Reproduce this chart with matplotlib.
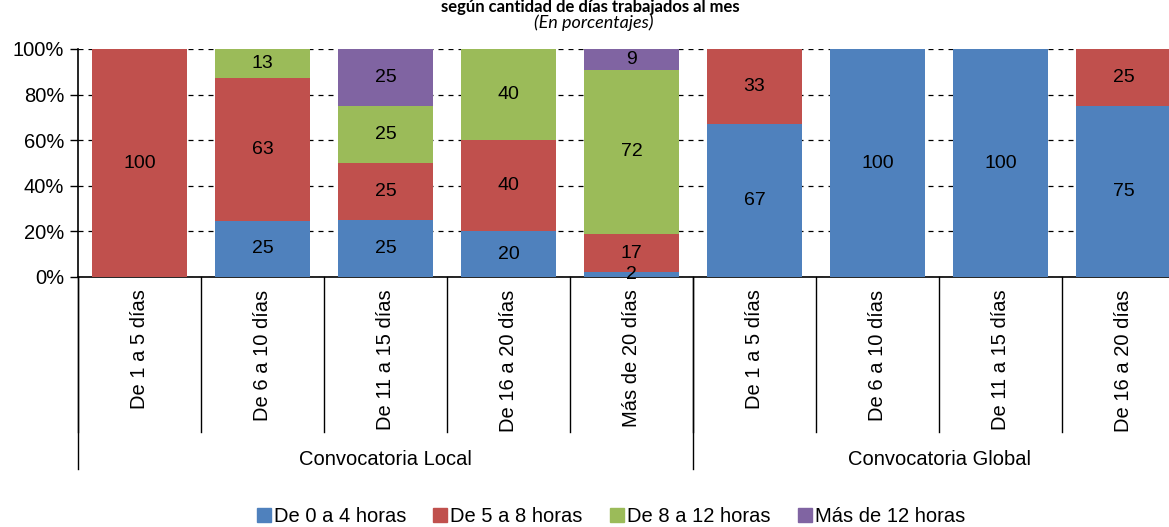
import numpy as np
import matplotlib.pyplot as plt

plt.rcParams['font.family'] = ['Liberation Sans', 'DejaVu Sans']

categories = ['De 1 a 5 días', 'De 6 a 10 días', 'De 11 a 15 días', 'De 16 a 20 días',
              'Más de 20 días', 'De 1 a 5 días', 'De 6 a 10 días', 'De 11 a 15 días',
              'De 16 a 20 días']
groups = ['Convocatoria Local', 'Convocatoria Global']
group_sizes = [5, 4]

series = ['De 0 a 4 horas', 'De 5 a 8 horas', 'De 8 a 12 horas', 'Más de 12 horas']
h0_4 = [0, 25, 25, 20, 2, 67, 100, 100, 75]
h5_8 = [100, 63, 25, 40, 17, 33, 0, 0, 25]
h8_12 = [0, 13, 25, 40, 72, 0, 0, 0, 0]
h12 = [0, 0, 25, 0, 9, 0, 0, 0, 0]
colors = ['#4F81BD', '#C0504D', '#9BBB59', '#8064A2']

values = np.array([h0_4, h5_8, h8_12, h12], dtype=float)
# 100% stacked like the original chart
shares = values / values.sum(axis=0) * 100

fig = plt.figure(figsize=(11.69, 5.27), dpi=100)
ax = fig.add_axes([78 / 1169, 250 / 527, 1107 / 1169, 228 / 527])

x = np.arange(len(categories))
bottom = np.zeros(len(categories))
for i in range(len(series)):
    ax.bar(x, shares[i], 0.77, bottom=bottom, color=colors[i], label=series[i], zorder=3)
    for j in range(len(categories)):
        if values[i, j] > 0:
            ax.text(x[j], bottom[j] + shares[i, j] / 2, f"{values[i, j]:.0f}",
                    ha='center', va='center', fontsize=14, zorder=4)
    bottom += shares[i]

ax.set_xlim(-0.5, len(categories) - 0.5)
ax.set_ylim(0, 100)
ax.set_yticks(range(0, 101, 20))
ax.set_yticklabels([f"{v}%" for v in range(0, 101, 20)], fontsize=14.5)
ax.tick_params(axis='y', direction='out', length=6, width=1, pad=4)
ax.yaxis.grid(True, linestyle=(0, (4, 4)), color='black', linewidth=0.9, zorder=0)
for s in ['top', 'right']:
    ax.spines[s].set_visible(False)
ax.spines['left'].set_linewidth(1.2)
ax.spines['bottom'].set_linewidth(1.2)

# multi-level category axis
ax.set_xticks([])
tr = ax.get_xaxis_transform()
for j, lab in enumerate(categories):
    ax.text(x[j], -0.055, lab, rotation=90, ha='center', va='top', fontsize=14.5, transform=tr)
for b in np.arange(len(categories) + 1) - 0.5:
    ax.plot([b, b], [0, -0.68], color='black', lw=1, transform=tr, clip_on=False)

start = -0.5
for g, n in zip(groups, group_sizes):
    ax.plot([start, start], [0, -0.84], color='black', lw=1, transform=tr, clip_on=False)
    ax.text(start + n / 2, -0.80, g, ha='center', va='center', fontsize=14.5, transform=tr)
    start += n

fig.text(0.505, 0.987, 'según cantidad de días trabajados al mes', ha='center', va='center',
         fontsize=12, fontweight='bold', family=['Lato', 'DejaVu Sans'])
fig.text(0.508, 0.957, '(En porcentajes)', ha='center', va='center', fontsize=13,
         style='italic', family=['Lato', 'DejaVu Sans'])

handles = [plt.Line2D([], [], marker='s', linestyle='', markersize=10, color=c) for c in colors]
fig.legend(handles, series, loc='center', bbox_to_anchor=(0.522, 0.02), ncol=4, frameon=False,
           fontsize=14.5, handlelength=0.8, handletextpad=0.1, columnspacing=1.3)

fig.savefig('out.png', dpi=100)
